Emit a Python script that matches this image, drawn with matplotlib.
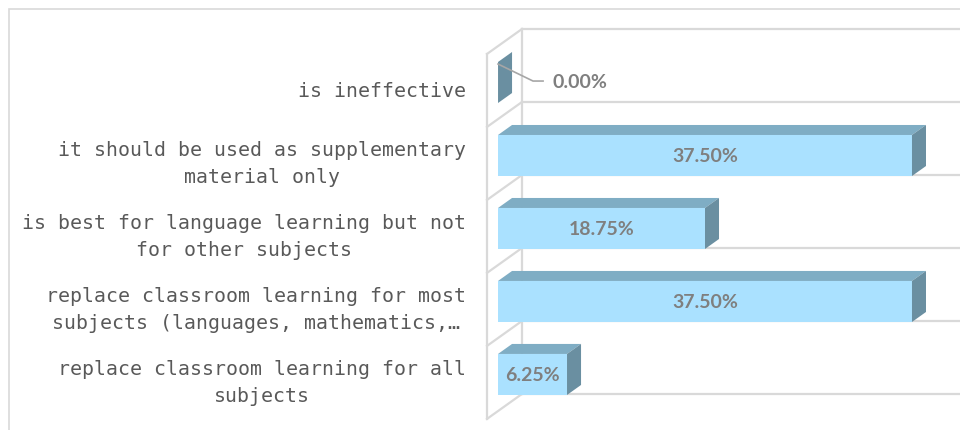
import matplotlib.pyplot as plt
from matplotlib.patches import Polygon, Rectangle

# categories from bottom to top
categories = ['replace classroom learning for all\nsubjects',
              'replace classroom learning for most\nsubjects (languages, mathematics,…',
              'is best for language learning but not\nfor other subjects',
              'it should be used as supplementary\nmaterial only',
              'is ineffective']
values = [6.25, 37.50, 18.75, 37.50, 0.00]
value_labels = ['6.25%', '37.50%', '18.75%', '37.50%', '0.00%']

face_c = '#AAE1FF'
top_c = '#7FADC4'
side_c = '#6A8FA1'
grid_c = '#D9D9D9'
text_c = '#595959'
val_c = '#7F7F7F'

fig = plt.figure(figsize=(9.6, 4.31), dpi=100)
ax = fig.add_axes([485 / 960, 0, 475 / 960, 1])
ax.set_xlim(-1.18, 41.85)
ax.set_ylim(-0.658, 5.247)
ax.axis('off')

# bar depth and wall depth (data units)
bdx, bdy = 1.27, 0.137
wdx, wdy = 3.17, 0.342
bar_off, bar_h = 0.103, 0.562

# walls
for k in range(6):
    yb = -0.164 + k
    ax.plot([wdx - 1.0, 50], [yb, yb], color=grid_c, lw=1.6, zorder=1)
    ax.plot([-1.0, wdx - 1.0], [yb - wdy, yb], color=grid_c, lw=1.6, zorder=1)
ax.plot([-1.0, -1.0], [-0.164 - wdy, 4.836 - wdy], color=grid_c, lw=1.6, zorder=1)
ax.plot([wdx - 1.0, wdx - 1.0], [-0.164, 4.836], color=grid_c, lw=1.6, zorder=1)

# 3d bars
for i, v in enumerate(values):
    bot = i + bar_off - bar_h / 2
    top = i + bar_off + bar_h / 2
    if v > 0:
        ax.barh(i + bar_off, v, height=bar_h, left=0, color=face_c, zorder=3)
        ax.add_patch(Polygon([(0, top), (v, top), (v + bdx, top + bdy), (bdx, top + bdy)],
                             closed=True, facecolor=top_c, edgecolor='none', zorder=3))
        ax.text(v / 2, i + bar_off, value_labels[i], ha='center', va='center',
                fontsize=14, fontweight='bold', family='Lato', color=val_c, zorder=4)
    ax.add_patch(Polygon([(v, bot), (v, top), (v + bdx, top + bdy), (v + bdx, bot + bdy)],
                         closed=True, facecolor=side_c, edgecolor='none', zorder=3))
    if v == 0:
        ly = i + 0.123
        ax.plot([v, v + 3.17, v + 4.08], [i + 0.356, ly, ly], color='#A6A6A6', lw=1.2, zorder=4)
        ax.text(v + 4.9, ly, value_labels[i], ha='left', va='center',
                fontsize=14, fontweight='bold', family='Lato', color=val_c, zorder=4)

# category labels
for i, lab in enumerate(categories):
    ax.text(-2.9, i, lab, ha='right', va='center', multialignment='center',
            fontsize=14.3, family='DejaVu Sans Mono', color=text_c, linespacing=1.5)

# chart border
fig.add_artist(Rectangle((9 / 960, -0.1), 1.0, (431 - 10) / 431 + 0.1, fill=False,
                         edgecolor=grid_c, lw=1.2, transform=fig.transFigure))

fig.savefig('out.png', dpi=100)
